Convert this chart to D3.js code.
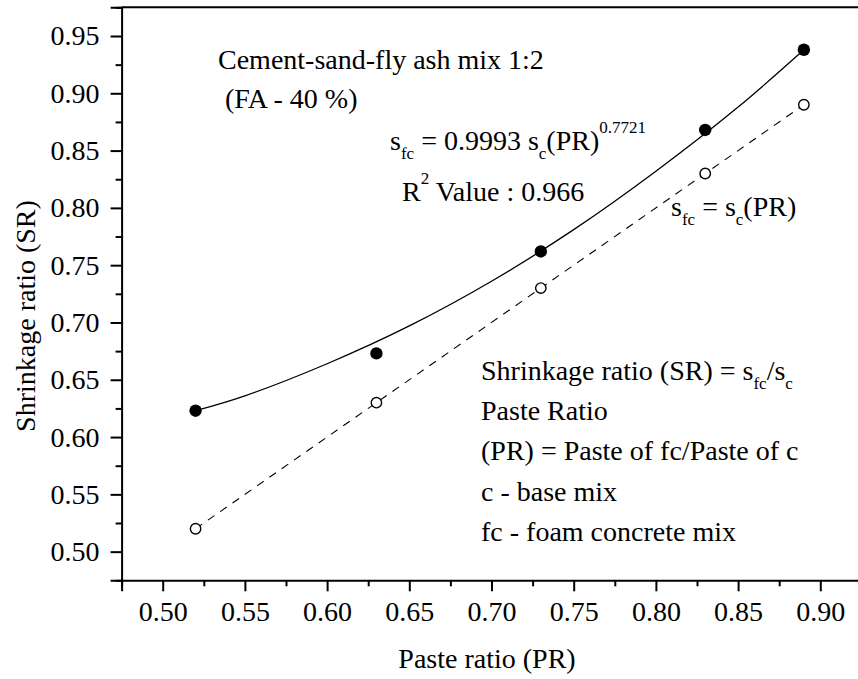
<!DOCTYPE html>
<html><head><meta charset="utf-8">
<script src="https://cdn.jsdelivr.net/npm/d3@7"></script>
<style>
body{margin:0;background:#fff;}
svg text{font-family:"Liberation Serif","Times New Roman",Times,"DejaVu Serif","Noto Serif",serif !important;fill:#000;}
</style></head>
<body><svg id="c" width="858" height="679"></svg>
<script>
// Data
const PR = [0.52, 0.63, 0.73, 0.83, 0.89];
const SR_foam = [0.623, 0.673, 0.762, 0.868, 0.938];
const SR_ref = [0.52, 0.63, 0.73, 0.83, 0.89];
const fitPR = [0.52, 0.55, 0.60, 0.65, 0.70, 0.75, 0.80, 0.85, 0.89];
const fitSR = [0.623, 0.636, 0.664, 0.697, 0.736, 0.781, 0.832, 0.888, 0.938];
const xTicks = [0.50, 0.55, 0.60, 0.65, 0.70, 0.75, 0.80, 0.85, 0.90];
const xMinor = [0.475, 0.525, 0.575, 0.625, 0.675, 0.725, 0.775, 0.825, 0.875];
const yTicks = [0.50, 0.55, 0.60, 0.65, 0.70, 0.75, 0.80, 0.85, 0.90, 0.95];
const yMinor = [0.475, 0.525, 0.575, 0.625, 0.675, 0.725, 0.775, 0.825, 0.875, 0.925, 0.975];

const FONT = '"Liberation Serif","Times New Roman",Times,"DejaVu Serif",serif';
const svg = d3.select("#c");
const L = 121.6, R = 861.4, T = 7.35, B = 580.3;
const x = d3.scaleLinear().domain([0.475, 0.925]).range([L, R]);
const y = d3.scaleLinear().domain([0.475, 0.975]).range([B, T]);
const FS = 28;

// frame top & right
svg.append("line").attr("x1", L).attr("x2", R).attr("y1", T).attr("y2", T).attr("stroke", "#000").attr("stroke-width", 2);
svg.append("line").attr("x1", R).attr("x2", R).attr("y1", T).attr("y2", B).attr("stroke", "#000").attr("stroke-width", 2);

// axes
const fmt = d3.format(".2f");
svg.append("g").attr("transform", `translate(0,${B})`)
  .call(d3.axisBottom(x).tickValues(xTicks).tickFormat(fmt).tickSize(11).tickPadding(10));
svg.append("g").attr("transform", `translate(0,${B})`)
  .call(d3.axisBottom(x).tickValues(xMinor).tickFormat("").tickSize(6)).select(".domain").remove();
svg.append("g").attr("transform", `translate(${L},0)`)
  .call(d3.axisLeft(y).tickValues(yTicks).tickFormat(fmt).tickSize(11).tickPadding(11));
svg.append("g").attr("transform", `translate(${L},0)`)
  .call(d3.axisLeft(y).tickValues(yMinor).tickFormat("").tickSize(6)).select(".domain").remove();
svg.selectAll("g").attr("font-family", FONT);
svg.selectAll(".domain").attr("stroke-width", 2);
svg.selectAll(".tick line").attr("stroke-width", 2);
svg.selectAll(".tick text").attr("font-family", FONT).attr("font-size", FS).attr("fill", "#000");

// axis titles
svg.append("text").attr("x", 487).attr("y", 668).attr("text-anchor", "middle")
  .attr("font-family", FONT).attr("font-size", FS).text("Paste ratio (PR)");
svg.append("text").attr("transform", "translate(35,316) rotate(-90)").attr("text-anchor", "middle")
  .attr("font-family", FONT).attr("font-size", FS).text("Shrinkage ratio (SR)");

// fit curve
const fitLine = d3.line().x(d => x(d[0])).y(d => y(d[1])).curve(d3.curveCatmullRom);
svg.append("path").datum(fitPR.map((p, i) => [p, fitSR[i]])).attr("d", fitLine)
  .attr("fill", "none").attr("stroke", "#000").attr("stroke-width", 1.3);
// reference dashed line
const refLine = d3.line().x(d => x(d[0])).y(d => y(d[1]));
svg.append("path").datum(PR.map((p, i) => [p, SR_ref[i]])).attr("d", refLine)
  .attr("fill", "none").attr("stroke", "#000").attr("stroke-width", 1.1).attr("stroke-dasharray", "8,7");

// points
svg.selectAll(".open").data(PR).enter().append("circle")
  .attr("cx", d => x(d)).attr("cy", (d, i) => y(SR_ref[i])).attr("r", 5.2)
  .attr("fill", "#fff").attr("stroke", "#000").attr("stroke-width", 1.4);
svg.selectAll(".fill").data(PR).enter().append("circle")
  .attr("cx", d => x(d)).attr("cy", (d, i) => y(SR_foam[i])).attr("r", 6.2).attr("fill", "#000");

// annotations
function rich(xp, yp, parts) {
  const t = svg.append("text").attr("x", xp).attr("y", yp)
    .attr("font-family", FONT).attr("font-size", FS);
  let shift = 0;
  parts.forEach(p => {
    const target = p[1] === "sub" ? 9 : p[1] === "sup" ? -17 : 0;
    const ts = t.append("tspan").text(p[0]).attr("dy", target - shift);
    if (p[1]) ts.attr("font-size", 17);
    shift = target;
  });
  return t;
}
rich(218, 69, [["Cement-sand-fly ash mix 1:2"]]);
rich(225, 108, [["(FA - 40 %)"]]);
rich(390, 150, [["s"], ["fc", "sub"], [" = 0.9993 s"], ["c", "sub"], ["(PR)"], ["0.7721", "sup"]]);
rich(402, 201, [["R"], ["2", "sup"], [" Value : 0.966"]]);
rich(671, 216, [["s"], ["fc", "sub"], [" = s"], ["c", "sub"], ["(PR)"]]);
rich(481, 380, [["Shrinkage ratio (SR) = s"], ["fc", "sub"], ["/s"], ["c", "sub"]]);
rich(481, 420, [["Paste Ratio"]]);
rich(481, 460, [["(PR) = Paste of fc/Paste of c"]]);
rich(481, 501, [["c - base mix"]]);
rich(481, 541, [["fc - foam concrete mix"]]);
</script></body></html>
